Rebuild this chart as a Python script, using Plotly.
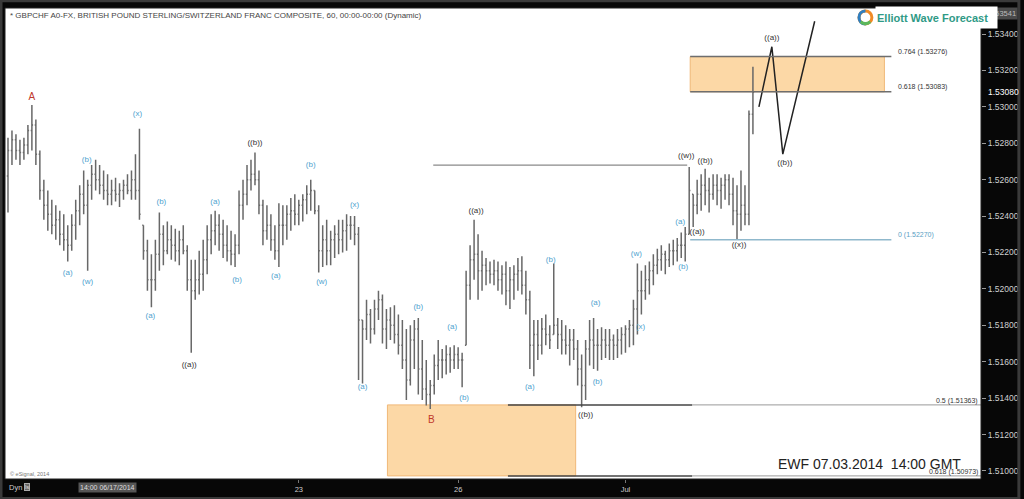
import plotly.graph_objects as go

# ---------------- data (hourly GBPCHF bars) ----------------
high = [
    1.5283, 1.5287, 1.5285, 1.5282, 1.5283, 1.5290, 1.5301, 1.5293, 1.5276, 1.5260,
    1.5254, 1.5249, 1.5246, 1.5243, 1.5241, 1.5235, 1.5241, 1.5249, 1.5257, 1.5265,
    1.5260, 1.5268, 1.5271, 1.5268, 1.5265, 1.5263, 1.5260, 1.5261, 1.5258, 1.5260,
    1.5263, 1.5265, 1.5274, 1.5288, 1.5235, 1.5227, 1.5219, 1.5227, 1.5242, 1.5235,
    1.5237, 1.5235, 1.5233, 1.5232, 1.5235, 1.5224, 1.5216, 1.5216, 1.5221, 1.5227,
    1.5235, 1.5241, 1.5243, 1.5241, 1.5238, 1.5235, 1.5232, 1.5230, 1.5254, 1.5260,
    1.5268, 1.5271, 1.5275, 1.5265, 1.5249, 1.5246, 1.5241, 1.5235, 1.5247, 1.5246,
    1.5246, 1.5250, 1.5252, 1.5249, 1.5252, 1.5257, 1.5260, 1.5254, 1.5246, 1.5235,
    1.5238, 1.5232, 1.5235, 1.5238, 1.5238, 1.5241, 1.5240, 1.5240, 1.5234, 1.5183,
    1.5194, 1.5189, 1.5194, 1.5199, 1.5197, 1.5189, 1.5190, 1.5191, 1.5186, 1.5183,
    1.5178, 1.5180, 1.5183, 1.5184, 1.5172, 1.5161, 1.5150, 1.5164, 1.5172, 1.5167,
    1.5169, 1.5168, 1.5169, 1.5168, 1.5165, 1.5210, 1.5224, 1.5238, 1.5230, 1.5221,
    1.5217, 1.5215, 1.5216, 1.5215, 1.5213, 1.5215, 1.5212, 1.5213, 1.5217, 1.5218,
    1.5210, 1.5199, 1.5183, 1.5183, 1.5184, 1.5186, 1.5180, 1.5214, 1.5184, 1.5183,
    1.5180, 1.5178, 1.5178, 1.5172, 1.5164, 1.5172, 1.5183, 1.5184, 1.5178, 1.5179,
    1.5178, 1.5178, 1.5175, 1.5178, 1.5179, 1.5180, 1.5183, 1.5194, 1.5214, 1.5210,
    1.5213, 1.5215, 1.5219, 1.5222, 1.5224, 1.5221, 1.5225, 1.5227, 1.5228, 1.5231,
    1.5234, 1.5267, 1.5252, 1.5260, 1.5263, 1.5266, 1.5261, 1.5263, 1.5263, 1.5261,
    1.5263, 1.5263, 1.5261, 1.5257, 1.5265, 1.5257, 1.5298, 1.5322,
]
low = [
    1.5242, 1.5268, 1.5271, 1.5268, 1.5271, 1.5274, 1.5276, 1.5268, 1.5249, 1.5238,
    1.5232, 1.5230, 1.5227, 1.5224, 1.5221, 1.5215, 1.5221, 1.5227, 1.5235, 1.5241,
    1.5210, 1.5249, 1.5254, 1.5252, 1.5249, 1.5246, 1.5246, 1.5248, 1.5245, 1.5249,
    1.5252, 1.5249, 1.5249, 1.5238, 1.5216, 1.5199, 1.5190, 1.5199, 1.5210, 1.5213,
    1.5219, 1.5216, 1.5215, 1.5213, 1.5219, 1.5199, 1.5165, 1.5194, 1.5197, 1.5199,
    1.5208, 1.5219, 1.5224, 1.5221, 1.5217, 1.5215, 1.5213, 1.5212, 1.5219, 1.5238,
    1.5246, 1.5254, 1.5257, 1.5241, 1.5224, 1.5227, 1.5221, 1.5216, 1.5212, 1.5224,
    1.5227, 1.5232, 1.5235, 1.5235, 1.5237, 1.5241, 1.5243, 1.5241, 1.5209, 1.5212,
    1.5213, 1.5213, 1.5217, 1.5219, 1.5220, 1.5221, 1.5227, 1.5224, 1.5150, 1.5148,
    1.5172, 1.5170, 1.5175, 1.5183, 1.5170, 1.5167, 1.5172, 1.5170, 1.5164, 1.5156,
    1.5139, 1.5147, 1.5156, 1.5142, 1.5139, 1.5136, 1.5134, 1.5142, 1.5150, 1.5151,
    1.5153, 1.5154, 1.5156, 1.5156, 1.5146, 1.5169, 1.5194, 1.5205, 1.5194, 1.5199,
    1.5202, 1.5203, 1.5202, 1.5199, 1.5197, 1.5191, 1.5189, 1.5194, 1.5199, 1.5197,
    1.5186, 1.5156, 1.5152, 1.5161, 1.5164, 1.5169, 1.5167, 1.5175, 1.5167, 1.5164,
    1.5164, 1.5158, 1.5161, 1.5147, 1.5135, 1.5139, 1.5158, 1.5156, 1.5155, 1.5161,
    1.5162, 1.5161, 1.5161, 1.5162, 1.5164, 1.5165, 1.5168, 1.5169, 1.5175, 1.5186,
    1.5194, 1.5197, 1.5202, 1.5208, 1.5210, 1.5208, 1.5212, 1.5213, 1.5215, 1.5217,
    1.5215, 1.5230, 1.5234, 1.5241, 1.5243, 1.5246, 1.5242, 1.5249, 1.5246, 1.5244,
    1.5249, 1.5246, 1.5235, 1.5227, 1.5232, 1.5235, 1.5235, 1.5285,
]
close = [
    1.5276, 1.5282, 1.5276, 1.5275, 1.5279, 1.5287, 1.5290, 1.5274, 1.5254, 1.5246,
    1.5241, 1.5235, 1.5238, 1.5230, 1.5227, 1.5224, 1.5235, 1.5243, 1.5252, 1.5246,
    1.5257, 1.5263, 1.5260, 1.5257, 1.5254, 1.5252, 1.5254, 1.5252, 1.5254, 1.5257,
    1.5254, 1.5260, 1.5254, 1.5241, 1.5221, 1.5205, 1.5205, 1.5219, 1.5230, 1.5221,
    1.5227, 1.5224, 1.5221, 1.5227, 1.5221, 1.5205, 1.5199, 1.5205, 1.5208, 1.5216,
    1.5227, 1.5232, 1.5235, 1.5230, 1.5224, 1.5221, 1.5219, 1.5224, 1.5246, 1.5252,
    1.5260, 1.5263, 1.5260, 1.5246, 1.5232, 1.5235, 1.5227, 1.5221, 1.5235, 1.5235,
    1.5241, 1.5243, 1.5241, 1.5246, 1.5249, 1.5252, 1.5254, 1.5243, 1.5221, 1.5227,
    1.5221, 1.5227, 1.5230, 1.5227, 1.5232, 1.5235, 1.5235, 1.5230, 1.5183, 1.5178,
    1.5186, 1.5178, 1.5189, 1.5194, 1.5178, 1.5183, 1.5180, 1.5175, 1.5169, 1.5161,
    1.5150, 1.5172, 1.5178, 1.5156, 1.5145, 1.5142, 1.5147, 1.5158, 1.5161, 1.5161,
    1.5164, 1.5161, 1.5164, 1.5161, 1.5161, 1.5202, 1.5216, 1.5219, 1.5210, 1.5213,
    1.5210, 1.5208, 1.5210, 1.5205, 1.5208, 1.5199, 1.5205, 1.5208, 1.5210, 1.5202,
    1.5194, 1.5169, 1.5175, 1.5169, 1.5178, 1.5175, 1.5172, 1.5180, 1.5175, 1.5172,
    1.5169, 1.5172, 1.5167, 1.5156, 1.5147, 1.5167, 1.5172, 1.5169, 1.5169, 1.5172,
    1.5169, 1.5172, 1.5169, 1.5172, 1.5175, 1.5178, 1.5180, 1.5189, 1.5199, 1.5199,
    1.5205, 1.5210, 1.5213, 1.5216, 1.5219, 1.5216, 1.5221, 1.5221, 1.5224, 1.5224,
    1.5230, 1.5254, 1.5246, 1.5252, 1.5257, 1.5254, 1.5252, 1.5257, 1.5254, 1.5257,
    1.5260, 1.5252, 1.5243, 1.5241, 1.5246, 1.5241, 1.5296, 1.5308,
]
first_open = 1.5262

# x axis (bar index) labels
tick_idx = [73, 113, 155]
tick_txt = ["23", "26", "Jul"]
cursor_idx = 25
cursor_txt = "14:00 06/17/2014"
x_range = [-0.75, 244.25]

# y axis
y_range = [1.50956, 1.53543]
y_ticks = [1.510, 1.512, 1.514, 1.516, 1.518, 1.520, 1.522, 1.524, 1.526, 1.528, 1.530, 1.532, 1.534]
last_price = 1.5308
top_price = 1.53541

# Elliott wave labels
blue_txt = ["(a)", "(w)", "(b)", "(x)", "(b)", "(a)", "(a)", "(b)", "(a)", "(b)", "(w)", "(x)",
            "(a)", "(b)", "(a)", "(b)", "(a)", "(b)", "(a)", "(b)", "(w)", "(x)", "(a)", "(b)"]
blue_x = [15, 20, 19.75, 32.5, 38.5, 35.75, 52, 57.5, 67.25, 76, 78.75, 87,
          89, 103, 111.5, 114.5, 131, 136.25, 147.5, 148, 157.75, 158.75, 168.75, 169.5]
blue_y = [1.5209, 1.5204, 1.5271, 1.5296, 1.5248, 1.5185, 1.5248, 1.5205, 1.5207, 1.5268, 1.5204, 1.5246,
          1.5146, 1.5190, 1.5179, 1.5140, 1.5146, 1.5216, 1.5192, 1.5149, 1.5219, 1.5179, 1.5237, 1.5212]
dark_txt = ["((a))", "((b))", "((a))", "((b))", "((w))", "((a))", "((b))", "((x))", "((a))", "((b))"]
dark_x = [45.5, 62, 117.5, 145, 170.25, 173, 175, 183.5, 191.75, 195]
dark_y = [1.5158, 1.5280, 1.5243, 1.5131, 1.5273, 1.5231, 1.5270, 1.5224, 1.5338, 1.5269]
red_txt = ["A", "B"]
red_x = [6, 106.25]
red_y = [1.5305, 1.5128]

# projected path
proj_x = [188.5, 191.75, 194.5, 202.5]
proj_y = [1.5300, 1.5333, 1.5274, 1.5347]

# Fibonacci zones
up_x0, up_box_x1, up_line_x1 = 171.25, 220, 221.75
up_levels = [1.53276, 1.53083]
up_names = ["0.764 (1.53276)", "0.618 (1.53083)"]
zero_level = 1.52270
zero_name = "0 (1.52270)"
lo_box_x0, lo_box_x1, lo_line_x0, lo_line_mid = 95.25, 142.5, 125.5, 171.75
lo_levels = [1.51363, 1.50973]
lo_names = ["0.5 (1.51363)", "0.618 (1.50973)"]
wline_x = [106.75, 170.5]
wline_y = 1.5268

FONT = "Liberation Sans, Arial, sans-serif"
BLUE = "#4fa3cf"
DARK = "#333333"
RED = "#c0392b"

# ---------------- build ----------------
opens = []
prev = first_open
for h, l, c in zip(high, low, close):
    opens.append(min(max(prev, l), h))
    prev = c
xs = list(range(len(close)))

fig = go.Figure()
fig.add_trace(go.Ohlc(
    x=xs, open=opens, high=high, low=low, close=close,
    increasing=dict(line=dict(color="#686868", width=1.5)),
    decreasing=dict(line=dict(color="#686868", width=1.5)),
    tickwidth=0.3, hoverinfo="skip", showlegend=False,
))

fig.add_trace(go.Scatter(x=proj_x, y=proj_y, mode="lines",
                         line=dict(color="#222222", width=1.5), hoverinfo="skip", showlegend=False))

fig.add_trace(go.Scatter(x=blue_x, y=blue_y, mode="text", text=blue_txt,
                         textfont=dict(color=BLUE, size=8, family=FONT), hoverinfo="skip", showlegend=False))
fig.add_trace(go.Scatter(x=dark_x, y=dark_y, mode="text", text=dark_txt,
                         textfont=dict(color=DARK, size=8, family=FONT), hoverinfo="skip", showlegend=False))
fig.add_trace(go.Scatter(x=red_x, y=red_y, mode="text", text=red_txt,
                         textfont=dict(color=RED, size=10, family=FONT), hoverinfo="skip", showlegend=False))

shapes = []
# fib boxes
shapes.append(dict(type="rect", xref="x", yref="y", x0=up_x0, x1=up_box_x1, y0=up_levels[1], y1=up_levels[0],
                   fillcolor="#fcd8a6", line=dict(color="#f0b878", width=1), layer="below"))
shapes.append(dict(type="rect", xref="x", yref="y", x0=lo_box_x0, x1=lo_box_x1, y0=lo_levels[1], y1=lo_levels[0],
                   fillcolor="#fcd8a6", line=dict(color="#f0b878", width=1), layer="below"))
for lv in up_levels:
    shapes.append(dict(type="line", xref="x", yref="y", x0=up_x0, x1=up_line_x1, y0=lv, y1=lv,
                       line=dict(color="#6e6e6e", width=1.5)))
shapes.append(dict(type="line", xref="x", yref="y", x0=up_x0, x1=up_line_x1, y0=zero_level, y1=zero_level,
                   line=dict(color="#8fb8cc", width=1.5)))
for lv in lo_levels:
    shapes.append(dict(type="line", xref="x", yref="y", x0=lo_line_x0, x1=lo_line_mid, y0=lv, y1=lv,
                       line=dict(color="#444444", width=1.5)))
    shapes.append(dict(type="line", xref="x", yref="y", x0=lo_line_mid, x1=x_range[1], y0=lv, y1=lv,
                       line=dict(color="#9a9a9a", width=1)))
shapes.append(dict(type="line", xref="x", yref="y", x0=wline_x[0], x1=wline_x[1], y0=wline_y, y1=wline_y,
                   line=dict(color="#8a8a8a", width=1.2)))
# logo icon (ring)
cx, cy, rx, ry = 0.8816, 0.9800, 0.0066, 0.0138
shapes.append(dict(type="circle", xref="paper", yref="paper", x0=cx - rx, x1=cx + rx, y0=cy - ry, y1=cy + ry,
                   line=dict(color="#f08a24", width=3)))
shapes.append(dict(type="path", xref="paper", yref="paper",
                   path=f"M {cx} {cy + ry} C {cx - 1.333 * rx} {cy + ry}, {cx - 1.333 * rx} {cy - ry}, {cx} {cy - ry}",
                   line=dict(color="#2f7fc1", width=3)))
shapes.append(dict(type="path", xref="paper", yref="paper",
                   path=f"M {cx - 0.75 * rx} {cy - 0.66 * ry} Q {cx} {cy - 1.25 * ry}, {cx + 0.75 * rx} {cy - 0.66 * ry}",
                   line=dict(color="#5cb85c", width=3)))
# plot border + outer frame
shapes.append(dict(type="rect", xref="paper", yref="paper", x0=0, x1=1, y0=0, y1=1,
                   line=dict(color="#222222", width=1)))
shapes.append(dict(type="rect", xref="paper", yref="paper", x0=-0.0041, x1=1.0388, y0=-0.0415, y1=1.0155,
                   line=dict(color="#3a3a3a", width=3)))

ann = []
ann.append(dict(xref="paper", yref="paper", x=0.003, y=0.985, xanchor="left", yanchor="middle", showarrow=False,
                text="* GBPCHF A0-FX, BRITISH POUND STERLING/SWITZERLAND FRANC COMPOSITE, 60, 00:00-00:00 (Dynamic)",
                font=dict(size=8, color="#444444", family=FONT)))
ann.append(dict(xref="paper", yref="paper", x=0.003, y=0.011, xanchor="left", yanchor="middle", showarrow=False,
                text="© eSignal, 2014", font=dict(size=5.5, color="#777777", family=FONT)))
ann.append(dict(xref="paper", yref="paper", x=0.982, y=0.031, xanchor="right", yanchor="middle", showarrow=False,
                text="EWF 07.03.2014\u00a0\u00a014:00 GMT", font=dict(size=14, color="#222222", family=FONT)))
for lv, nm in zip(up_levels, up_names):
    ann.append(dict(xref="x", yref="y", x=223, y=lv, xanchor="left", yanchor="bottom", yshift=-1, showarrow=False,
                    text=nm, font=dict(size=7, color="#333333", family=FONT)))
ann.append(dict(xref="x", yref="y", x=223, y=zero_level, xanchor="left", yanchor="bottom", yshift=-1, showarrow=False,
                text=zero_name, font=dict(size=7, color="#5a9ec4", family=FONT)))
for lv, nm in zip(lo_levels, lo_names):
    ann.append(dict(xref="x", yref="y", x=244, y=lv, xanchor="right", yanchor="bottom", yshift=-2, showarrow=False,
                    text=nm, font=dict(size=7, color="#333333", family=FONT)))
# price labels on axis
ann.append(dict(xref="paper", yref="y", x=1.0, y=last_price, xanchor="left", yanchor="middle", xshift=5,
                showarrow=False, text=f"{last_price:.5f}", font=dict(size=8.5, color="#ffffff", family=FONT)))
ann.append(dict(xref="paper", yref="paper", x=1.0378, y=0.989, xanchor="right", yanchor="middle", showarrow=False,
                text=f"{top_price:.5f}", bgcolor="#4a4a4a", font=dict(size=7.5, color="#bbbbbb", family=FONT)))
# logo text (white box covers part of the top label)
ann.append(dict(xref="paper", yref="paper", x=0.8918, y=0.980, xanchor="left", yanchor="middle", showarrow=False,
                text="<b>Elliott Wave Forecast</b>", align="left", width=119, height=19, bgcolor="#ffffff",
                font=dict(size=11, color="#2f9a86", family=FONT)))
# bottom strip
ann.append(dict(xref="paper", yref="paper", x=0.002, y=-0.018, xanchor="left", yanchor="middle", showarrow=False,
                text="Dyn", font=dict(size=7.5, color="#cccccc", family=FONT)))
ann.append(dict(xref="paper", yref="paper", x=0.019, y=-0.018, xanchor="left", yanchor="middle", showarrow=False,
                text="ls", bgcolor="#666666", bordercolor="#aaaaaa", borderwidth=1, borderpad=0,
                font=dict(size=6, color="#dddddd", family=FONT)))
ann.append(dict(xref="x", yref="paper", x=cursor_idx, y=-0.018, xanchor="center", yanchor="middle", showarrow=False,
                text=cursor_txt, bgcolor="#555555", borderpad=1,
                font=dict(size=7, color="#dddddd", family=FONT)))

fig.update_layout(
    width=1024, height=499,
    margin=dict(l=5, r=39, t=8, b=20),
    paper_bgcolor="#070707", plot_bgcolor="#ffffff",
    shapes=shapes, annotations=ann, showlegend=False,
    xaxis=dict(range=x_range, tickvals=tick_idx, ticktext=tick_txt, showgrid=False, zeroline=False,
               ticks="outside", ticklen=3, tickcolor="#777777",
               tickfont=dict(size=7.5, color="#cccccc", family=FONT),
               rangeslider=dict(visible=False), fixedrange=True),
    yaxis=dict(range=y_range, side="right", tickvals=y_ticks, tickformat=".5f", showgrid=False, zeroline=False,
               ticks="outside", ticklen=4, tickcolor="#999999",
               tickfont=dict(size=8.5, color="#d0d0d0", family=FONT), fixedrange=True),
)

fig.write_html("out.html", config={"displayModeBar": False},
               post_script="document.body.style.margin='0px';document.body.style.overflow='hidden';")
